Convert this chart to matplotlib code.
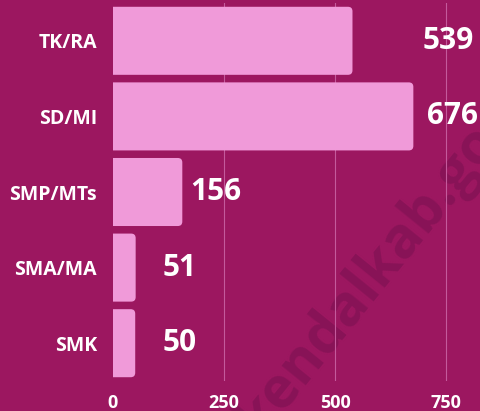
import matplotlib
matplotlib.use("Agg")
import matplotlib.pyplot as plt
from matplotlib.patches import FancyBboxPatch
from matplotlib.transforms import offset_copy

categories = ["TK/RA", "SD/MI", "SMP/MTs", "SMA/MA", "SMK"]
values = [539, 676, 156, 51, 50]
xticks = [0, 250, 500, 750]

# label offsets from bar end (in pixels)
label_offsets = [70, 14, 8, 27, 27]

BG = "#9c1760"
BAR = "#f09ad9"
GRID = "#c45a9c"
WM = "#881357"

plt.rcParams["font.family"] = ["Open Sans", "DejaVu Sans"]

W, H = 480, 411
fig = plt.figure(figsize=(W / 100, H / 100), dpi=100, facecolor=BG)
ax_left, ax_right = 113, 480
ax_top, ax_bot = 3, 381
ax = fig.add_axes([ax_left / W, 1 - ax_bot / H, (ax_right - ax_left) / W, (ax_bot - ax_top) / H])
ax.set_facecolor("none")
xmax = 826
ax.set_xlim(0, xmax)
ax.set_ylim(len(categories) - 0.5, -0.5)

# watermark (behind bars)
ax.text(390 / W, 1 - 252 / H, "kendalkab.go.id", transform=fig.transFigure,
        rotation=51, rotation_mode="anchor", fontsize=41, fontweight="bold",
        color=WM, ha="center", va="center", zorder=0.5, clip_on=False)

for x in xticks[1:]:
    ax.axvline(x, color=GRID, lw=0.8, zorder=1)

px_x = (ax_right - ax_left) / xmax  # px per data unit
px_y = (ax_bot - ax_top) / len(categories)
r_px = 4.5
bh = 0.9
for i, v in enumerate(values):
    p = FancyBboxPatch((-30, i - bh / 2), v + 30, bh,
                       boxstyle=f"round,pad=0,rounding_size={r_px / px_x}",
                       mutation_aspect=(1 / px_y) / (1 / px_x),
                       facecolor=BAR, edgecolor="none", zorder=2)
    ax.add_patch(p)
    tr = offset_copy(ax.transData, fig=fig, x=label_offsets[i] * 0.72, y=0, units="points")
    ax.text(v, i, str(v), transform=tr, ha="left", va="center", fontsize=21.5,
            fontweight="bold", color="white", zorder=3)

ax.set_yticks(range(len(categories)))
ax.set_yticklabels(categories)
ax.set_xticks(xticks)
ax.set_xticklabels([str(t) for t in xticks])
ax.tick_params(axis="y", length=0, pad=11.5, labelsize=14, labelcolor="white")
ax.tick_params(axis="x", length=0, pad=9, labelsize=13, labelcolor="white")
for lab in ax.get_xticklabels() + ax.get_yticklabels():
    lab.set_fontweight("bold")
for s in ax.spines.values():
    s.set_visible(False)

fig.savefig("out.png", dpi=100, facecolor=BG)
